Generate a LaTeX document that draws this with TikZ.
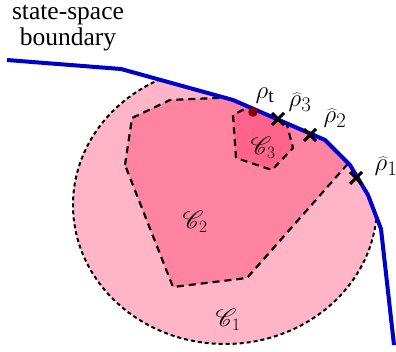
\documentclass[tikz,border=0pt]{standalone}
\usepackage{fontspec}
\setmainfont{Liberation Serif}
\usepackage{mathrsfs}
\usetikzlibrary{shapes.misc}
\definecolor{bblue}{RGB}{0,0,205}
\definecolor{pinkA}{RGB}{255,180,200}
\definecolor{pinkB}{RGB}{255,132,162}
\definecolor{pinkC}{RGB}{255,98,138}
\definecolor{dotred}{RGB}{130,0,0}
\begin{document}
\begin{tikzpicture}[x=1pt,y=-1pt,
  bnd/.style={line width=4pt, draw=bblue, line join=round},
  cone/.style={fill=pinkA, draw=black, line width=2pt, dash pattern=on 4pt off 3pt},
  ctwo/.style={fill=pinkB, draw=black, line width=2.2pt, dash pattern=on 7pt off 5pt, line join=round},
  cthree/.style={fill=pinkC, draw=black, line width=2.2pt, dash pattern=on 7pt off 5pt, line join=round},
  lbl/.style={font=\fontsize{25.5}{26}\selectfont, inner sep=0pt},
  mlbl/.style={font=\fontsize{28}{28}\selectfont, inner sep=0pt},
  xmark/.style={cross out, draw=black, line width=3pt, minimum size=9pt, inner sep=0pt},
  dotmark/.style={circle, fill=dotred, inner sep=0pt, minimum size=9.5pt}]
\useasboundingbox (0,0) rectangle (396,352);
\begin{scope}
  \clip (0,352) -- (0,60) -- (7,60) -- (121,69) -- (233,100) -- (325,140) -- (350,165) -- (368,195) -- (381,229) -- (394,345) -- (396,352) -- cycle;
  \path[cone] (225,205) ellipse [x radius=152, y radius=139];
  \path[ctwo] (125,165) -- (132,118) -- (170,100) -- (262,96) -- (360,150) -- (247,278) -- (173,287) -- cycle;
  \path[cthree] (236,158) -- (233,115) -- (258,102) -- (284,113) -- (293,148) -- (272,170) -- cycle;
\end{scope}
\draw[bnd] (7,60) -- (121,69) -- (233,100) -- (325,140) -- (350,165) -- (368,195) -- (381,229) -- (394,345);
\node[xmark] (r3) at (278,119) {};
\node[xmark] (r2) at (310,135) {};
\node[xmark] (r1) at (356,178) {};
\node[dotmark] (rt) at (253,112) {};
\node[lbl, align=center] (title) at (68,28) {state-space\\boundary};
\node[mlbl] (lrt) at (265,96) {$\rho_{\mathrm{t}}$};
\node[mlbl] (lr3) at (300,102) {$\widehat{\rho}_3$};
\node[mlbl] (lr2) at (335,118) {$\widehat{\rho}_2$};
\node[mlbl] (lr1) at (386,166) {$\widehat{\rho}_1$};
\node[lbl] (lc3) at (263,148) {$\mathscr{C}_3$};
\node[lbl] (lc2) at (195,222) {$\mathscr{C}_2$};
\node[lbl] (lc1) at (228,320) {$\mathscr{C}_1$};
\end{tikzpicture}
\end{document}
